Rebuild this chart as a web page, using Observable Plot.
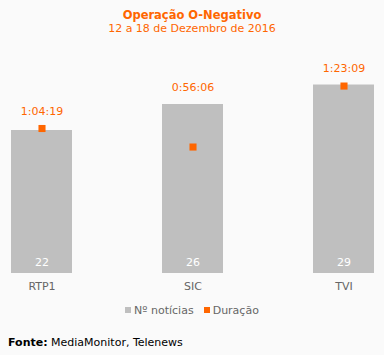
<!DOCTYPE html>
<html>
<head>
<meta charset="utf-8">
<script src="https://cdn.jsdelivr.net/npm/d3@7"></script>
<script src="https://cdn.jsdelivr.net/npm/@observablehq/plot@0.6"></script>
<style>
  html, body { margin: 0; padding: 0; background: #fafafa; }
  body { width: 384px; height: 355px; position: relative; font-family: "DejaVu Sans", Verdana, sans-serif; overflow: hidden; }
  #title { position: absolute; top: 8px; left: 0; width: 384px; text-align: center; color: #ff6600; font-size: 11.5px; font-weight: bold; line-height: 14px; }
  #subtitle { position: absolute; top: 22px; left: 0; width: 384px; text-align: center; color: #ff6600; font-size: 11px; line-height: 14px; }
  #chart { position: absolute; top: 40px; left: 0; }
  #legend { position: absolute; top: 304px; left: 0; width: 384px; text-align: center; font-size: 11px; color: #666; line-height: 14px; }
  #legend .sw { display: inline-block; width: 6px; height: 6px; margin-right: 3px; vertical-align: 1px; }
  #legend .item { margin: 0 5px; }
  #caption { position: absolute; top: 336px; left: 8px; font-size: 11px; color: #000; line-height: 14px; }
</style>
</head>
<body>
<div id="title">Operação O-Negativo</div>
<div id="subtitle">12 a 18 de Dezembro de 2016</div>
<div id="chart"></div>
<div id="legend"></div>
<div id="caption"><b>Fonte:</b> MediaMonitor, Telenews</div>
<script>
const channels = ["RTP1", "SIC", "TVI"];
const newsCounts = [22, 26, 29];
const durationLabels = ["1:04:19", "0:56:06", "1:23:09"];
const durationSeconds = [3859, 3366, 4989];
const legendLabels = ["Nº notícias", "Duração"];

const countMax = 30;
const durMax = 5190; // secondary axis max aligned with countMax

const data = channels.map((c, i) => ({
  channel: c,
  count: newsCounts[i],
  dur: durationSeconds[i],
  durLabel: durationLabels[i],
  durY: durationSeconds[i] / durMax * countMax
}));

const barColor = "#bfbfbf";
const orange = "#ff6600";

const plot = Plot.plot({
  width: 384,
  height: 260,
  marginLeft: 0,
  marginRight: 0,
  marginTop: 38,
  marginBottom: 27,
  style: { background: "transparent", fontFamily: "'DejaVu Sans', Verdana, sans-serif", fontSize: "11px" },
  x: { domain: channels, paddingInner: 0.597, paddingOuter: 0.066, label: null },
  y: { domain: [0, countMax], axis: null },
  marks: [
    Plot.barY(data, { x: "channel", y: "count", fill: barColor }),
    Plot.text(data, { x: "channel", y: 0, text: d => String(d.count), fill: "#fff", dy: -11, fontSize: 11 }),
    Plot.dot(data, { x: "channel", y: "durY", symbol: "square", fill: orange, r: 4 }),
    Plot.text(data, { x: "channel", y: d => Math.max(d.count, d.durY), text: "durLabel", fill: orange, dy: -17, fontSize: 11 }),
    Plot.axisX({ tickSize: 0, tickPadding: 9, color: "#666", fontSize: 11, label: null })
  ]
});
document.getElementById("chart").appendChild(plot);

const legendColors = [barColor, orange];
document.getElementById("legend").innerHTML = legendLabels.map((l, i) =>
  `<span class="item"><span class="sw" style="background:${legendColors[i]}"></span>${l}</span>`
).join("");
</script>
</body>
</html>
